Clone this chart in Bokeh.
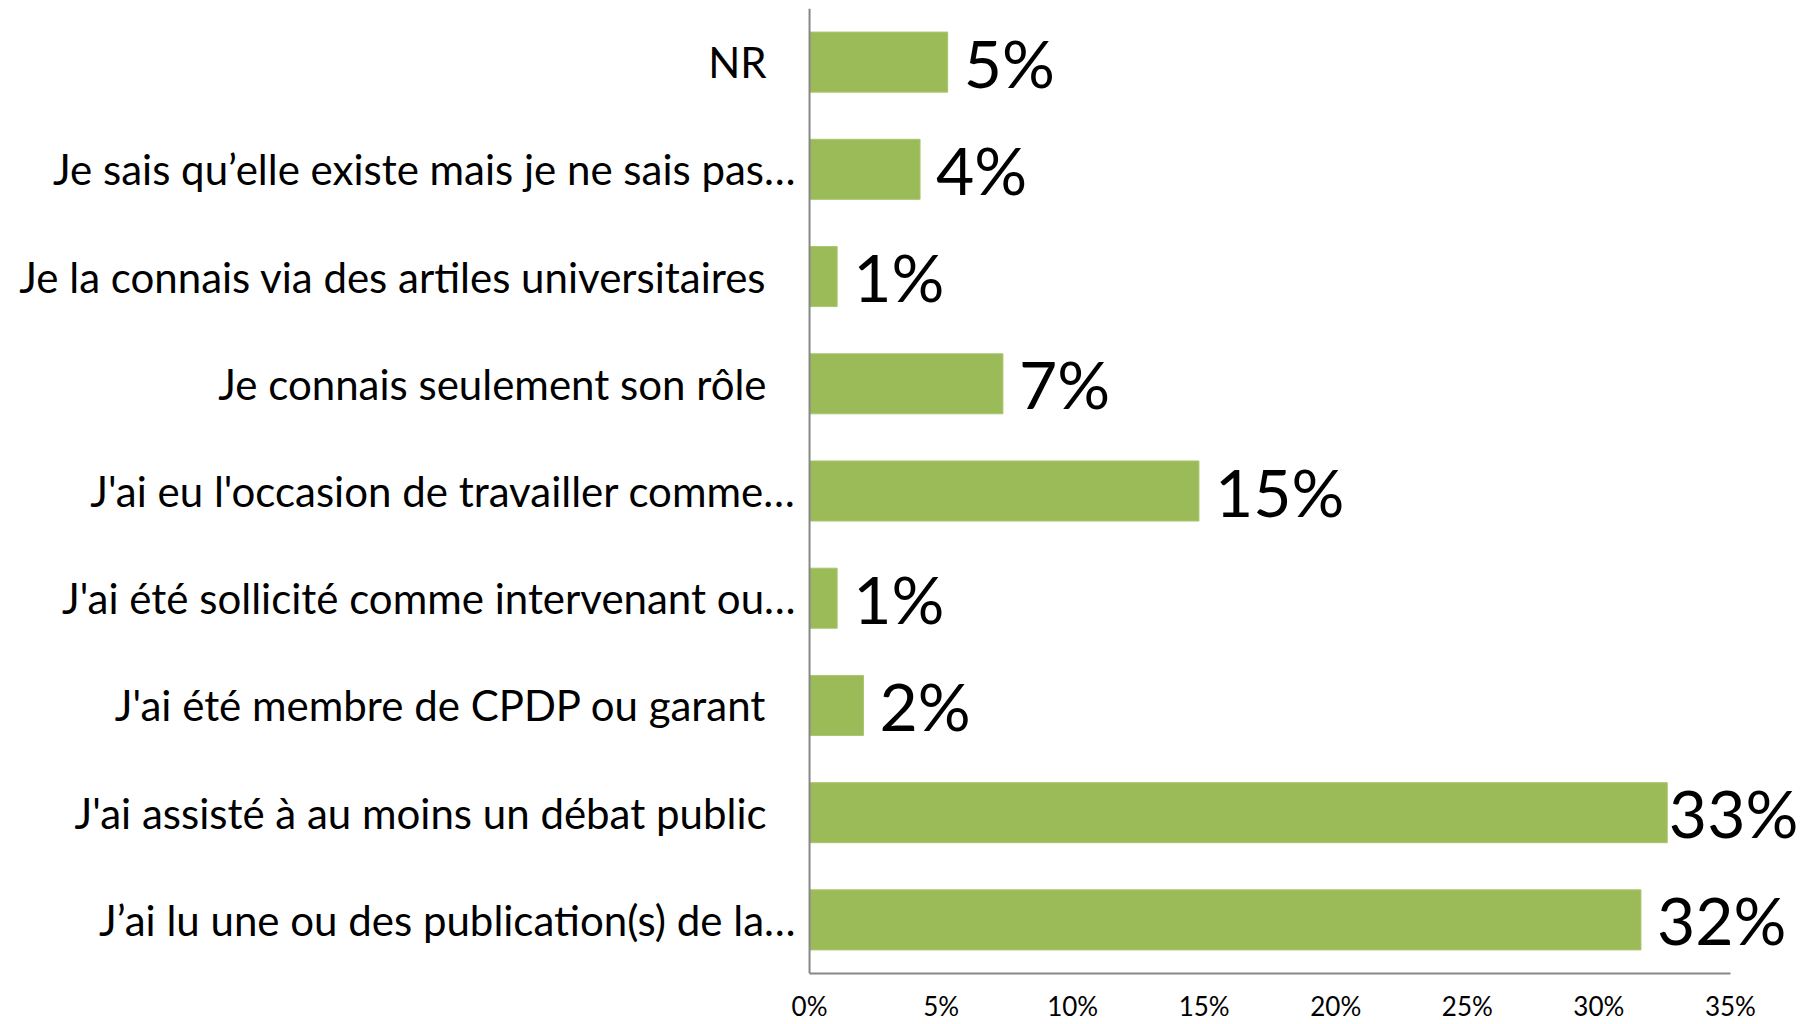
from bokeh.plotting import figure
from bokeh.models import FactorRange, Range1d, ColumnDataSource, FixedTicker, Span
from bokeh.core.properties import value
from bokeh.embed import file_html
from bokeh.resources import INLINE

# Categories, top to bottom as shown
categories = [
    "NR",
    "Je sais qu’elle existe mais je ne sais pas…",
    "Je la connais via des artiles universitaires",
    "Je connais seulement son rôle",
    "J'ai eu l'occasion de travailler comme…",
    "J'ai été sollicité comme intervenant ou…",
    "J'ai été membre de CPDP ou garant",
    "J'ai assisté à au moins un débat public",
    "J’ai lu une ou des publication(s) de la…",
]
values = [5.25, 4.2, 1.05, 7.35, 14.8, 1.05, 2.05, 32.6, 31.6]
value_labels = ["5%", "4%", "1%", "7%", "15%", "1%", "2%", "33%", "32%"]
x_ticks = [0, 5, 10, 15, 20, 25, 30, 35]
x_tick_labels = ["0%", "5%", "10%", "15%", "20%", "25%", "30%", "35%"]

FONT = "Lato"
W, H = 1807, 1024
TOP = 8
X_START = -30.75   # room at the left of the frame for category labels
X_END = 37.93
VAL_SIZE = 66
AXIS_COLOR = "#878787"

factors = list(reversed(categories))
p = figure(width=W, height=H, output_backend="svg", toolbar_location=None,
           y_range=FactorRange(factors=factors, range_padding=0),
           x_range=Range1d(X_START, X_END),
           min_border_left=0, min_border_right=0, min_border_top=TOP,
           min_border_bottom=30)
p.outline_line_color = None
p.grid.grid_line_color = None
p.background_fill_color = "white"
p.border_fill_color = "white"
p.yaxis.visible = False

src = ColumnDataSource(dict(cat=categories, val=values, lab=value_labels))
p.hbar(y="cat", right="val", left=0, height=0.56, source=src,
       fill_color="#9BBB59", line_color="#A9C66F", line_width=1)

# vertical category axis line at 0%
p.add_layout(Span(location=0, dimension="height", line_color=AXIS_COLOR, line_width=2))

# value label offsets: keep labels inside the frame
px_per = W / (X_END - X_START)
offsets = []
for v, lab in zip(values, value_labels):
    est_w = 0.68 * VAL_SIZE * len(lab)
    avail = (X_END - v) * px_per - est_w - 4
    offsets.append(max(0, min(16, avail)))
src.data["off"] = offsets
p.text(x="val", y="cat", text="lab", x_offset="off", source=src,
       text_align="left", text_baseline="middle", text_font=value(FONT),
       text_font_size=f"{VAL_SIZE}px", text_color="black")

# category labels (truncated ones sit closer to the axis)
cat_src = ColumnDataSource(dict(
    cat=categories,
    x0=[0] * len(categories),
    off=[-14 if c.endswith("…") else -43 for c in categories],
))
p.text(x="x0", y="cat", text="cat", x_offset="off", source=cat_src,
       text_align="right", text_baseline="middle",
       text_font=value(FONT), text_font_size="42px", text_color="black")

xa = p.xaxis[0]
xa.ticker = FixedTicker(ticks=x_ticks)
xa.major_label_overrides = {t: l for t, l in zip(x_ticks, x_tick_labels)}
xa.bounds = (0, 35)
xa.major_label_text_font = FONT
xa.major_label_text_font_size = "26px"
xa.major_label_text_color = "black"
xa.major_label_standoff = 10
xa.major_tick_line_color = None
xa.minor_tick_line_color = None
xa.axis_line_color = AXIS_COLOR
xa.axis_line_width = 2

open("out.html", "w").write(file_html(p, INLINE))
